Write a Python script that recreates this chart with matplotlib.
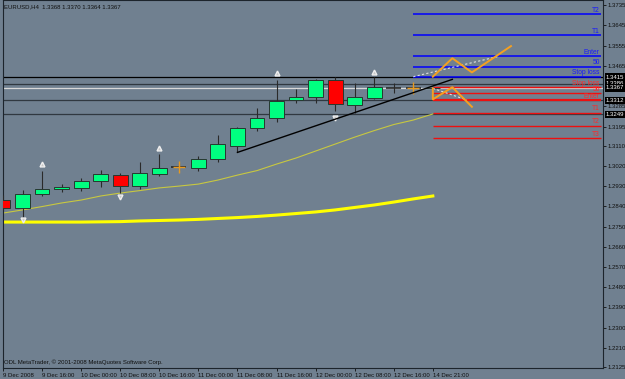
import numpy as np
import matplotlib.pyplot as plt
import matplotlib.transforms as mtransforms

plt.rcParams['font.family'] = ['Liberation Sans', 'DejaVu Sans']

# EURUSD H4 bars, 9 Dec 08:00 -> 14 Dec 21:00
opens  = [1.2868, 1.2834, 1.2894, 1.2916, 1.2923, 1.2954, 1.2979, 1.2932, 1.2984, 1.3016,
          1.3009, 1.3049, 1.3110, 1.3187, 1.3232, 1.3313, 1.3325, 1.3402, 1.3291, 1.3321,
          1.3365, 1.3366, 1.3368]
highs  = [1.2890, 1.2913, 1.2999, 1.2939, 1.2966, 1.3002, 1.2990, 1.3039, 1.3072, 1.3034,
          1.3064, 1.3157, 1.3193, 1.3276, 1.3402, 1.3361, 1.3407, 1.3414, 1.3387, 1.3414,
          1.3387, 1.3384, 1.3370]
lows   = [1.2824, 1.2794, 1.2887, 1.2905, 1.2908, 1.2927, 1.2898, 1.2916, 1.2975, 1.3001,
          1.2999, 1.3039, 1.3080, 1.3177, 1.3217, 1.3301, 1.3299, 1.3266, 1.3254, 1.3316,
          1.3343, 1.3366, 1.3364]
closes = [1.2834, 1.2895, 1.2917, 1.2925, 1.2953, 1.2984, 1.2932, 1.2987, 1.3009, 1.3016,
          1.3049, 1.3117, 1.3187, 1.3232, 1.3310, 1.3325, 1.3402, 1.3295, 1.3325, 1.3370,
          1.3365, 1.3366, 1.3367]

ma_fast = [1.2810, 1.2824, 1.2839, 1.2855, 1.2868, 1.2886, 1.2899, 1.2910, 1.2922, 1.2930,
           1.2939, 1.2957, 1.2979, 1.2999, 1.3028, 1.3055, 1.3086, 1.3117, 1.3148, 1.3177,
           1.3204, 1.3224, 1.3251]
ma_slow = [1.2770, 1.2770, 1.2770, 1.2770, 1.2770, 1.2771, 1.2772, 1.2775, 1.2777, 1.2779,
           1.2782, 1.2786, 1.2790, 1.2795, 1.2801, 1.2808, 1.2815, 1.2824, 1.2835, 1.2846,
           1.2859, 1.2873, 1.2886]

frac_up_x = [2, 8, 14, 19]
frac_up_y = [1.3028, 1.3098, 1.3432, 1.3439]
frac_dn_x = [1, 6, 17]
frac_dn_y = [1.2779, 1.2883, 1.3232]

signal_x = [9, 21]
signal_y = [1.3016, 1.3366]

levels = [1.3415, 1.3386, 1.3312, 1.3249]
bid = 1.3367

blue_levels = [1.3695, 1.3602, 1.3509, 1.3461, 1.3417]
blue_names = ['T2', 'T1', 'Enter', '50', 'Stop loss']
red_levels = [1.3370, 1.3343, 1.3313, 1.3257, 1.3199, 1.3143]
red_names = ['Stop loss', '50', 'Enter', 'T1', 'T2', 'T3']

zz_up_x = [22, 23, 24, 26]
zz_up_y = [1.3417, 1.3499, 1.3436, 1.3553]
zz_dn_x = [22, 22, 23, 24]
zz_dn_y = [1.3365, 1.3316, 1.3370, 1.3283]
dash_up_x = [21, 25.3]
dash_up_y = [1.3417, 1.3506]
dash_dn_x = [22, 23.75]
dash_dn_y = [1.3365, 1.3313]
trend_x = [12, 23]
trend_y = [1.3080, 1.3405]

xtick_pos = [0, 2, 4, 6, 8, 10, 12, 14, 16, 18, 20, 22]
xtick_lab = ['9 Dec 2008', '9 Dec 16:00', '10 Dec 00:00', '10 Dec 08:00', '10 Dec 16:00',
             '11 Dec 00:00', '11 Dec 08:00', '11 Dec 16:00', '12 Dec 00:00', '12 Dec 08:00',
             '12 Dec 16:00', '14 Dec 21:00']
ytick_pos = [1.3735, 1.3645, 1.3555, 1.3465, 1.3285, 1.3195, 1.3110, 1.3020, 1.2930, 1.2840,
             1.2750, 1.2660, 1.2570, 1.2480, 1.2390, 1.2300, 1.2210, 1.2125]

bg = '#708090'
fig = plt.figure(figsize=(6.25, 3.79), dpi=100, facecolor=bg)
ax = fig.add_axes([3/625, 11/379, 600/625, 368/379], facecolor=bg)
ax.set_xlim(0.046, 30.71)
ax.set_ylim(1.21206, 1.37582)

# horizontal levels across the chart
for i, lv in enumerate(levels):
    ax.axhline(lv, color='black' if i == 0 else '#303840', lw=0.9, zorder=1)
ax.axhline(bid, color='#d8d8d8', lw=0.9, zorder=1)

# moving averages
n = len(opens)
x = np.arange(n)
ax.plot(x, ma_slow, color='#ffff00', lw=2.2, zorder=2)
ax.plot(x, ma_fast, color='#c8c840', lw=0.8, zorder=2)

# candles
w = 0.76
for i in range(n):
    o, h, l, c = opens[i], highs[i], lows[i], closes[i]
    ax.vlines(i, l, h, color='#2a2a2a', lw=0.8, zorder=3)
    if abs(c - o) < 0.00005:
        ax.hlines(o, i - w/2, i + w/2, color='#2a2a2a', lw=1.2, zorder=4)
    else:
        col = '#00ff80' if c > o else '#ff0000'
        ax.bar(i, abs(c - o), bottom=min(o, c), width=w, color=col,
               edgecolor='#263830', lw=0.7, zorder=4)

ax.plot(signal_x, signal_y, '+', color='#e89a20', ms=9, mew=1.0, zorder=5)

# fractals
ax.plot(frac_up_x, frac_up_y, '^', color='#c8c8c8', mec='#eeeeee', ms=3.5, zorder=5)
ax.plot(frac_dn_x, frac_dn_y, 'v', color='#c8c8c8', mec='#eeeeee', ms=3.5, zorder=5)

# trend line
ax.plot(trend_x, trend_y, color='black', lw=1.0, zorder=6)

# projection levels
x_end = 30.6
for lv, nm in zip(blue_levels, blue_names):
    ax.hlines(lv, 21, x_end, color='#0000ff', lw=1.1, zorder=2)
    ax.text(x_end - 0.05, lv + 0.0002, nm, color='#1818ff', fontsize=4.8,
            ha='right', va='bottom', zorder=7)
for lv, nm in zip(red_levels, red_names):
    ax.hlines(lv, 22, x_end, color='#ee1010', lw=1.6 if nm == 'Enter' else 1.0, zorder=2)
    ax.text(x_end - 0.05, lv + 0.0002, nm, color='#ff2828', fontsize=4.8,
            ha='right', va='bottom', zorder=7)

# projected zigzags
ax.plot(dash_up_x, dash_up_y, color='#e0e0e0', lw=0.8, ls=(0, (2, 2)), zorder=6)
ax.plot(dash_dn_x, dash_dn_y, color='#e0e0e0', lw=0.8, ls=(0, (2, 2)), zorder=6)
ax.plot(zz_up_x, zz_up_y, color='#f5a020', lw=1.4, zorder=7)
ax.plot(zz_dn_x, zz_dn_y, color='#f5a020', lw=1.4, zorder=7)

# axes
for s in ax.spines.values():
    s.set_color('#1c242c')
    s.set_linewidth(0.8)
ax.yaxis.tick_right()
ax.set_yticks(ytick_pos)
ax.set_yticklabels([f'{v:.4f}' for v in ytick_pos])
ax.set_xticks(xtick_pos)
ax.set_xticklabels(xtick_lab, ha='left')
ax.tick_params(axis='y', length=2.2, width=0.6, pad=1, labelsize=4.3,
               colors='#101010')
ax.tick_params(axis='x', length=2.2, width=0.6, pad=1.2, labelsize=4.3,
               colors='#101010')

# price boxes on the scale
tr = mtransforms.blended_transform_factory(ax.transAxes, ax.transData)
for lv in levels[:2] + [bid] + levels[2:]:
    ax.text(1.0 + 3/600, lv, f'{lv:.4f}', transform=tr, color='white', fontsize=4.3,
            ha='left', va='center', clip_on=False, zorder=10,
            bbox=dict(facecolor='black', edgecolor='none', pad=0.8))

fig.text(4/625, 1 - 7/379, 'EURUSD,H4  1.3368 1.3370 1.3364 1.3367', fontsize=4.3,
         color='#101010', ha='left', va='center')
fig.text(4/625, 1 - 362/379, 'ODL MetaTrader, \u00a9 2001-2008 MetaQuotes Software Corp.',
         fontsize=4.3, color='#101010', ha='left', va='center')

fig.savefig('out.png', dpi=100, facecolor=bg)
